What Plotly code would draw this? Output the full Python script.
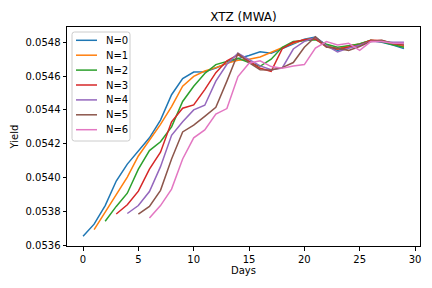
import plotly.graph_objects as go

days = list(range(30))

n0 = [0.053654, 0.053725, 0.053835, 0.053980, 0.054080, 0.054160, 0.054235, 0.054340,
      0.054490, 0.054585, 0.054624, 0.054626, 0.054648, 0.054675, 0.054703, 0.054722,
      0.054743, 0.054735, 0.054762, 0.054792, 0.054818, 0.054830, 0.054782, 0.054752,
      0.054772, 0.054792, 0.054810, 0.054800, 0.054784, 0.054762]
n1 = [0.053693, 0.053797, 0.053900, 0.054003, 0.054128, 0.054225, 0.054315, 0.054420,
      0.054540, 0.054598, 0.054630, 0.054650, 0.054675, 0.054693, 0.054700, 0.054713,
      0.054740, 0.054770, 0.054795, 0.054815, 0.054822, 0.054780, 0.054760, 0.054780,
      0.054790, 0.054810, 0.054808, 0.054790, 0.054772]
n2 = [0.053742, 0.053830, 0.053908, 0.054050, 0.054160, 0.054212, 0.054300, 0.054450,
      0.054540, 0.054615, 0.054668, 0.054688, 0.054705, 0.054680, 0.054658, 0.054700,
      0.054770, 0.054805, 0.054810, 0.054815, 0.054788, 0.054770, 0.054780, 0.054790,
      0.054812, 0.054803, 0.054785, 0.054770]
n3 = [0.053785, 0.053840, 0.053920, 0.054050, 0.054150, 0.054330, 0.054410, 0.054430,
      0.054520, 0.054620, 0.054690, 0.054725, 0.054688, 0.054646, 0.054628, 0.054762,
      0.054800, 0.054815, 0.054820, 0.054772, 0.054760, 0.054770, 0.054782, 0.054812,
      0.054810, 0.054792, 0.054782]
n4 = [0.053788, 0.053835, 0.053918, 0.054065, 0.054250, 0.054330, 0.054400, 0.054428,
      0.054570, 0.054670, 0.054735, 0.054700, 0.054660, 0.054638, 0.054648, 0.054760,
      0.054805, 0.054828, 0.054780, 0.054742, 0.054765, 0.054782, 0.054805, 0.054805,
      0.054800, 0.054800]
n5 = [0.053784, 0.053830, 0.053925, 0.054110, 0.054270, 0.054310, 0.054362, 0.054415,
      0.054570, 0.054733, 0.054680, 0.054638, 0.054636, 0.054650, 0.054680, 0.054770,
      0.054832, 0.054772, 0.054765, 0.054752, 0.054775, 0.054805, 0.054812, 0.054792,
      0.054790]
n6 = [0.053762, 0.053835, 0.053932, 0.054110, 0.054235, 0.054282, 0.054375, 0.054408,
      0.054597, 0.054676, 0.054690, 0.054656, 0.054646, 0.054660, 0.054668, 0.054765,
      0.054804, 0.054784, 0.054794, 0.054752, 0.054804, 0.054805, 0.054794, 0.054794]

series = [n0, n1, n2, n3, n4, n5, n6]
names = ["N=0", "N=1", "N=2", "N=3", "N=4", "N=5", "N=6"]
colors = ["#1f77b4", "#ff7f0e", "#2ca02c", "#d62728", "#9467bd", "#8c564b", "#e377c2"]

W, H = 432, 288
L, R, T, B = 67, 420, 27, 246  # plot area in pixels


def px(x):
    return (x - L) / (R - L)


def py(y):
    return (B - y) / (B - T)


fig = go.Figure()
for k, (vals, name, col) in enumerate(zip(series, names, colors)):
    fig.add_trace(go.Scatter(x=days[k:k + len(vals)], y=vals, mode="lines", name=name,
                             line=dict(color=col, width=1.5), showlegend=False))

# matplotlib-style legend drawn with shapes and text
shapes = []
annotations = []
bx0, bx1, by0, by1, r = 72, 130, 32, 141, 2.5
path = (f"M {px(bx0 + r)},{py(by0)} L {px(bx1 - r)},{py(by0)} "
        f"Q {px(bx1)},{py(by0)} {px(bx1)},{py(by0 + r)} L {px(bx1)},{py(by1 - r)} "
        f"Q {px(bx1)},{py(by1)} {px(bx1 - r)},{py(by1)} L {px(bx0 + r)},{py(by1)} "
        f"Q {px(bx0)},{py(by1)} {px(bx0)},{py(by1 - r)} L {px(bx0)},{py(by0 + r)} "
        f"Q {px(bx0)},{py(by0)} {px(bx0 + r)},{py(by0)} Z")
shapes.append(dict(type="path", xref="paper", yref="paper", path=path,
                   fillcolor="rgba(255,255,255,0.8)", line=dict(color="#cccccc", width=1)))
for i, (name, col) in enumerate(zip(names, colors)):
    yc = 40.3 + 14.9 * i
    shapes.append(dict(type="line", xref="paper", yref="paper",
                       x0=px(76), x1=px(97), y0=py(yc), y1=py(yc),
                       line=dict(color=col, width=1.5)))
    annotations.append(dict(xref="paper", yref="paper", x=px(104), y=py(yc),
                            xanchor="left", yanchor="middle", text=name, showarrow=False,
                            font=dict(size=10, color="black")))

font = "DejaVu Sans, Arial, sans-serif"
fig.update_layout(
    width=W, height=H,
    margin=dict(l=L, r=W - R, t=T, b=H - B, pad=0),
    paper_bgcolor="white", plot_bgcolor="white",
    font=dict(family=font, size=10, color="black"),
    title=dict(text="XTZ (MWA)", x=(L + R) / 2 / W, xanchor="center",
               y=1 - 17 / H, yanchor="middle", font=dict(size=12)),
    showlegend=False,
    shapes=shapes,
    annotations=annotations,
)
fig.update_xaxes(range=[-1.45, 30.45], tickvals=[0, 5, 10, 15, 20, 25, 30],
                 showgrid=False, zeroline=False, showline=True, linecolor="black",
                 linewidth=1, mirror=True, ticks="outside", ticklen=3.5, tickcolor="black",
                 automargin=False,
                 title=dict(text="Days", standoff=3, font=dict(size=10)))
fig.update_yaxes(range=[0.053596, 0.054890],
                 tickvals=[0.0536, 0.0538, 0.0540, 0.0542, 0.0544, 0.0546, 0.0548],
                 tickformat=".4f", automargin=False,
                 showgrid=False, zeroline=False, showline=True, linecolor="black",
                 linewidth=1, mirror=True, ticks="outside", ticklen=3.5, tickcolor="black",
                 title=dict(text="Yield", standoff=5, font=dict(size=10)))
fig.write_html("out.html", config={"displayModeBar": False, "staticPlot": True},
               post_script="document.body.style.margin='0';document.body.style.overflow='hidden';")
